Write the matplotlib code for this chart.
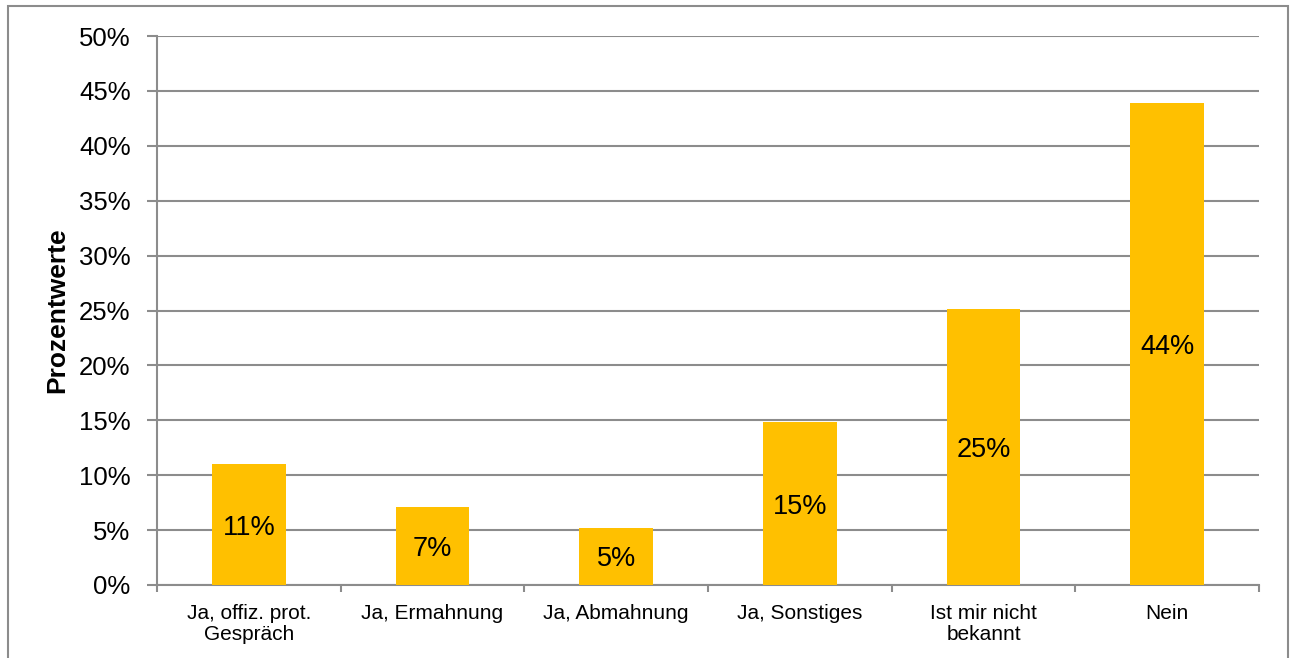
import numpy as np
import matplotlib.pyplot as plt
from matplotlib.patches import Rectangle
from matplotlib.ticker import FixedLocator

plt.rcParams['font.family'] = ['Liberation Sans', 'DejaVu Sans']

# data
categories = ['Ja, offiz. prot.\nGespräch', 'Ja, Ermahnung', 'Ja, Abmahnung',
              'Ja, Sonstiges', 'Ist mir nicht\nbekannt', 'Nein']
values = [11.0, 7.1, 5.2, 14.8, 25.1, 43.9]
labels = ['11%', '7%', '5%', '15%', '25%', '44%']
yticks = np.arange(0, 51, 5)

grey = '#8c8c8c'

fig = plt.figure(figsize=(12.9, 6.58), dpi=100)
ax = fig.add_axes([157 / 1290, 1 - 585 / 658, (1259 - 157) / 1290, (585 - 36) / 658])

x = np.arange(len(categories))
bars = ax.bar(x, values, width=0.4, color='#FFC000', zorder=3)

for xi, v, lab in zip(x, values, labels):
    ax.text(xi, v / 2, lab, ha='center', va='center_baseline', fontsize=19.5, zorder=4)

ax.set_xlim(-0.5, len(categories) - 0.5)
ax.set_ylim(0, 50)
ax.set_yticks(yticks)
ax.set_yticklabels(['{}%'.format(t) for t in yticks], fontsize=18.5)
ax.set_xticks(x)
ax.set_xticklabels(categories, fontsize=15, linespacing=1.1)
ax.xaxis.set_minor_locator(FixedLocator(np.arange(-0.5, len(categories), 1.0)))
ax.tick_params(axis='x', which='major', length=0, pad=14)
ax.tick_params(axis='x', which='minor', length=5, width=1.5, color=grey)
ax.tick_params(axis='y', length=7, width=1.5, color=grey, pad=12)

ax.grid(axis='y', color=grey, linewidth=1.5, zorder=0)
ax.set_axisbelow(True)
for s in ['top', 'right']:
    ax.spines[s].set_visible(False)
for s in ['left', 'bottom']:
    ax.spines[s].set_color(grey)
    ax.spines[s].set_linewidth(1.5)

ax.set_ylabel('Prozentwerte', fontsize=19, fontweight='bold', labelpad=7)

# outer frame
fig.patches.append(Rectangle((8 / 1290, -0.05), (1288 - 8) / 1290, 1.05 - 6 / 658,
                             transform=fig.transFigure, fill=False,
                             edgecolor=grey, linewidth=1.5))

fig.savefig('out.png', dpi=100)
